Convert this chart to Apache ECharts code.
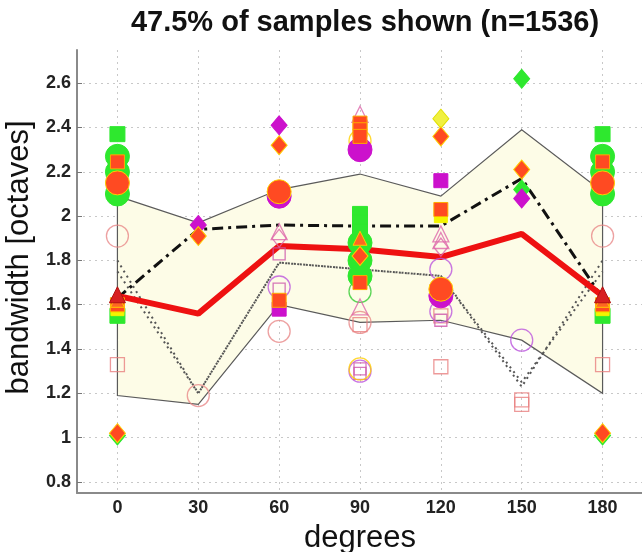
<!DOCTYPE html>
<html>
<head>
<meta charset="utf-8">
<script src="https://cdn.jsdelivr.net/npm/echarts@6.0.0/dist/echarts.min.js"></script>
<style>
  html, body { margin: 0; padding: 0; background: #fff; }
  #chart { width: 642px; height: 552px; }
</style>
</head>
<body>
<div id="chart"></div>
<script>
// categories (degrees)
const degrees = ['0', '30', '60', '90', '120', '150', '180'];

// summary lines
const upperBound = [2.09, 1.97, 2.12, 2.19, 2.09, 2.39, 2.11];
const lowerBound = [1.19, 1.15, 1.60, 1.52, 1.53, 1.44, 1.20];
const medianLine = [1.64, 1.56, 1.865, 1.85, 1.815, 1.92, 1.64];
const meanLine = [1.63, 1.94, 1.96, 1.955, 1.955, 2.17, 1.63];
const dottedA = [1.80, 1.20, 1.79, 1.76, 1.73, 1.23, 1.80];
const dottedB = [1.75, 1.20, 1.79, 1.76, 1.73, 1.25, 1.75];

// individual samples [degree, bandwidth]
const salmonHollowCircles = [[0, 1.91], [30, 1.19], [60, 1.48], [90, 1.52], [180, 1.91]];
const salmonHollowSquares = [[0, 1.33], [90, 1.51], [120, 1.32], [120, 1.55], [150, 1.17], [150, 1.15], [180, 1.33]];
const violetHollowCircles = [[60, 1.68], [90, 1.30], [120, 1.76], [120, 1.57], [150, 1.44]];
const pinkHollowSquares = [[60, 1.67], [60, 1.83], [90, 1.29], [90, 1.31], [120, 1.53]];
const greenHollowCircles = [[90, 1.66]];
const yellowHollowCircles = [[90, 1.31], [90, 2.34]];
const pinkHollowTriangles = [[60, 1.93], [90, 2.46], [90, 1.59], [120, 1.92], [120, 1.89]];
const pinkHollowDiamonds = [[120, 1.86], [60, 1.90]];
const greenCircles = [[0, 2.27], [0, 2.20], [0, 2.10], [90, 1.88], [90, 1.80], [90, 1.73], [180, 2.27], [180, 2.20], [180, 2.10]];
const greenSquares = [[0, 2.37], [0, 1.55], [90, 2.01], [90, 1.97], [90, 1.93], [180, 2.37], [180, 1.55]];
const greenDiamonds = [[0, 1.01], [150, 2.62], [150, 2.12], [180, 1.01]];
const magentaCircles = [[60, 2.09], [90, 2.30], [120, 1.64]];
const magentaSquares = [[60, 1.58], [120, 2.16]];
const magentaDiamonds = [[30, 1.96], [60, 2.41], [150, 2.08]];
const yellowSquares = [[120, 2.00], [0, 1.58], [180, 1.58]];
const yellowDiamonds = [[120, 2.44]];
const orangeCircles = [[0, 2.15], [60, 2.11], [120, 1.67], [180, 2.15]];
const orangeSquares = [[0, 2.245], [0, 1.60], [60, 1.62], [90, 2.42], [90, 2.39], [90, 2.36], [90, 1.70], [120, 2.03], [180, 2.245], [180, 1.60]];
const orangeDiamonds = [[0, 1.02], [30, 1.91], [60, 2.32], [90, 1.82], [120, 2.36], [150, 2.21], [180, 1.02]];
const orangeTriangles = [[0, 1.62], [90, 1.90], [180, 1.62]];
const darkRedTriangles = [[0, 1.645], [180, 1.645]];

const chart = echarts.init(document.getElementById('chart'));
const font = 'Liberation Sans, Arial, Helvetica, sans-serif';

function pts(list) {
  return list.map(p => [String(p[0]), p[1]]);
}

function markers(list, symbol, size, color, hollow, edge) {
  return {
    type: 'scatter',
    z: 5,
    symbol: symbol,
    symbolSize: size,
    silent: true,
    itemStyle: hollow
      ? { color: 'rgba(0,0,0,0)', borderColor: color, borderWidth: 1.3 }
      : { color: color, borderColor: edge || color, borderWidth: 1, opacity: 1 },
    data: pts(list)
  };
}

function summaryLine(values, color, width, type) {
  return {
    type: 'line',
    z: 3,
    symbol: 'none',
    silent: true,
    lineStyle: { color: color, width: width, type: type, cap: 'butt' },
    data: values.map((v, i) => [degrees[i], v])
  };
}

const option = {
  animation: false,
  backgroundColor: '#fff',
  title: {
    text: '47.5% of samples shown (n=1536)',
    left: 360,
    top: 3,
    textAlign: 'center',
    textStyle: { fontFamily: font, fontSize: 29, fontWeight: 'bold', color: '#111' }
  },
  grid: { left: 77, top: 50, width: 566, bottom: 59, outerBoundsMode: 'none', containLabel: false },
  xAxis: {
    type: 'category',
    data: degrees,
    boundaryGap: true,
    name: 'degrees',
    nameLocation: 'middle',
    nameGap: 30,
    nameTextStyle: { fontFamily: font, fontSize: 31, color: '#111' },
    axisLine: { lineStyle: { color: '#8a8a8a', width: 2 } },
    axisTick: { alignWithLabel: true, inside: true, length: 5, lineStyle: { color: '#777' } },
    axisLabel: { fontFamily: font, fontSize: 18, fontWeight: 'bold', color: '#222', margin: 6 },
    splitLine: { show: true, alignWithLabel: true, lineStyle: { color: '#c8c8c8', type: [2, 4], width: 1 } }
  },
  yAxis: {
    type: 'value',
    min: 0.75,
    max: 2.75,
    splitNumber: 10,
    name: 'bandwidth [octaves]',
    nameLocation: 'middle',
    nameGap: 31,
    nameTextStyle: { fontFamily: font, fontSize: 31, color: '#111', padding: [0, 0, 0, 28] },
    axisLine: { show: true, lineStyle: { color: '#8a8a8a', width: 2 } },
    axisTick: { show: true, inside: true, length: 5, lineStyle: { color: '#777' } },
    axisLabel: { fontFamily: font, fontSize: 18, fontWeight: 'bold', color: '#222', margin: 6, showMinLabel: false, showMaxLabel: false },
    splitLine: { show: true, showMinLine: false, showMaxLine: false, lineStyle: { color: '#c8c8c8', type: [2, 4], width: 1 } }
  },
  series: [
    {
      // shaded band between the two grey bounds
      type: 'custom',
      z: 2,
      silent: true,
      data: [0],
      renderItem: function (params, api) {
        const points = [];
        upperBound.forEach((v, i) => points.push(api.coord([i, v])));
        for (let i = lowerBound.length - 1; i >= 0; i--) points.push(api.coord([i, lowerBound[i]]));
        return {
          type: 'polygon',
          shape: { points: points },
          style: { fill: '#fdfce7', stroke: '#5a5a5a', lineWidth: 1.2 }
        };
      }
    },
    summaryLine(dottedA, '#555', 2, [2, 4]),
    summaryLine(dottedB, '#555', 2, [2, 4]),
    summaryLine(meanLine, '#111', 3, [11, 5, 3, 5]),
    summaryLine(medianLine, '#ee1111', 6, 'solid'),
    markers(salmonHollowCircles, 'circle', 22, '#e88a8a', true),
    markers(salmonHollowSquares, 'rect', 14, '#e88080', true),
    markers(violetHollowCircles, 'circle', 22, '#bb55dd', true),
    markers(pinkHollowSquares, 'rect', 12, '#cc55aa', true),
    markers(greenHollowCircles, 'circle', 22, '#33cc33', true),
    markers(yellowHollowCircles, 'circle', 22, '#ffd000', true),
    markers(pinkHollowTriangles, 'triangle', 16, '#dd66aa', true),
    markers(pinkHollowDiamonds, 'diamond', [14, 18], '#dd66aa', true),
    markers(greenCircles, 'circle', 24, '#2ee82e', false),
    markers(greenSquares, 'rect', 15, '#2ee82e', false),
    markers(greenDiamonds, 'diamond', [16, 19], '#2ee82e', false),
    markers(magentaCircles, 'circle', 24, '#cc11cc', false),
    markers(magentaSquares, 'rect', 14, '#cc11cc', false),
    markers(magentaDiamonds, 'diamond', [16, 19], '#cc11cc', false),
    markers(yellowSquares, 'rect', 13, '#f4f400', false),
    markers(yellowDiamonds, 'diamond', [16, 19], '#f0f040', false, '#e0e000'),
    markers(orangeCircles, 'circle', 24, '#ff4a22', false, '#ffcc00'),
    markers(orangeSquares, 'rect', 14, '#ff4a22', false, '#ffaa00'),
    markers(orangeDiamonds, 'diamond', [16, 19], '#ff4a22', false, '#ffcc00'),
    markers(orangeTriangles, 'triangle', 14, '#ff6622', false, '#ffcc00'),
    markers(darkRedTriangles, 'triangle', 16, '#d82020', false, '#b01010')
  ]
};

chart.setOption(option);
</script>
</body>
</html>
